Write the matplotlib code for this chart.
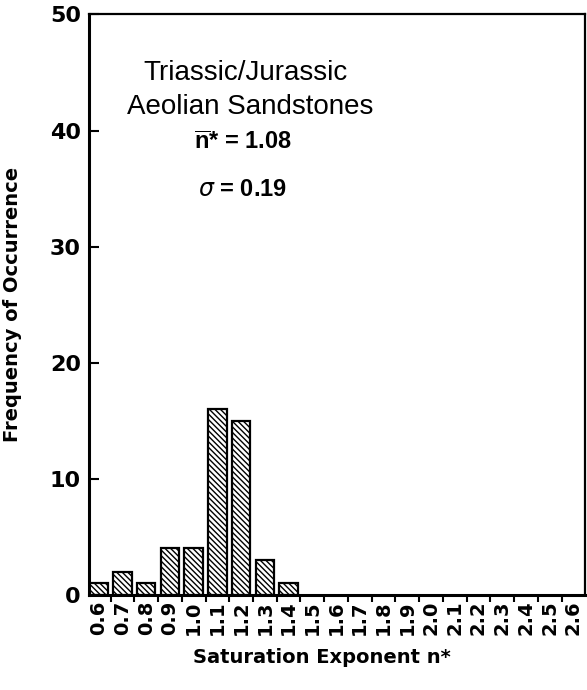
import matplotlib
matplotlib.use("Agg")
import matplotlib.pyplot as plt
import numpy as np

# saturation exponent bins and counts
bins = ["0.6", "0.7", "0.8", "0.9", "1.0", "1.1", "1.2", "1.3", "1.4", "1.5", "1.6",
        "1.7", "1.8", "1.9", "2.0", "2.1", "2.2", "2.3", "2.4", "2.5", "2.6"]
counts = [1, 2, 1, 4, 4, 16, 15, 3, 1, 0, 0, 0, 0, 0, 0, 0, 0, 0, 0, 0, 0]
y_ticks = [0, 10, 20, 30, 40, 50]

narrow = ["Liberation Sans Narrow", "DejaVu Sans Condensed", "DejaVu Sans"]
plain = ["Liberation Sans", "DejaVu Sans"]

plt.rcParams["hatch.linewidth"] = 1.0

fig = plt.figure(figsize=(5.87, 6.9), dpi=100)
ax = fig.add_axes([0.152, 0.138, 0.845, 0.841])

x = np.arange(len(bins))
vals = np.array(counts)
nz = vals > 0
ax.bar(x[nz], vals[nz], width=0.78, color="white", edgecolor="black",
       linewidth=1.6, hatch="\\\\\\\\\\\\")

ax.set_xlim(-0.4, 20.5)
ax.set_ylim(0, 50)

ax.set_xticks(x)
ax.set_xticklabels(bins, rotation=90, fontfamily=narrow, fontweight="bold", fontsize=14)
ax.tick_params(axis="x", which="major", length=0, pad=4)
ax.set_xticks(x[:-1] + 0.5, minor=True)
ax.tick_params(axis="x", which="minor", length=5, width=1.5, direction="out")

ax.set_yticks(y_ticks)
ax.set_yticklabels([str(v) for v in y_ticks], fontfamily=narrow, fontweight="bold", fontsize=16)
ax.tick_params(axis="y", length=7, width=1.5, direction="in", pad=6)

for s in ["left", "bottom"]:
    ax.spines[s].set_linewidth(2.2)
for s in ["top", "right"]:
    ax.spines[s].set_linewidth(1.6)

ax.set_ylabel("Frequency of Occurrence", fontfamily=narrow, fontweight="bold", fontsize=14)
ax.yaxis.set_label_coords(-0.135, 0.5)
ax.set_xlabel("Saturation Exponent n*", fontfamily=narrow, fontweight="bold", fontsize=14)
ax.xaxis.set_label_coords(0.47, -0.092)

ax.text(0.315, 0.900, "Triassic/Jurassic", transform=ax.transAxes, ha="center", va="center",
        fontfamily=plain, fontsize=20)
ax.text(0.325, 0.840, "Aeolian Sandstones", transform=ax.transAxes, ha="center", va="center",
        fontfamily=plain, fontsize=20)
ax.text(0.31, 0.779, r"$\overline{\mathregular{n}}$* = 1.08", transform=ax.transAxes,
        ha="center", va="center", fontfamily=plain, fontweight="bold", fontsize=17)
ax.text(0.31, 0.698, r"$\sigma$ = 0.19", transform=ax.transAxes,
        ha="center", va="center", fontfamily=plain, fontweight="bold", fontsize=17)

fig.savefig("out.png", dpi=100)
